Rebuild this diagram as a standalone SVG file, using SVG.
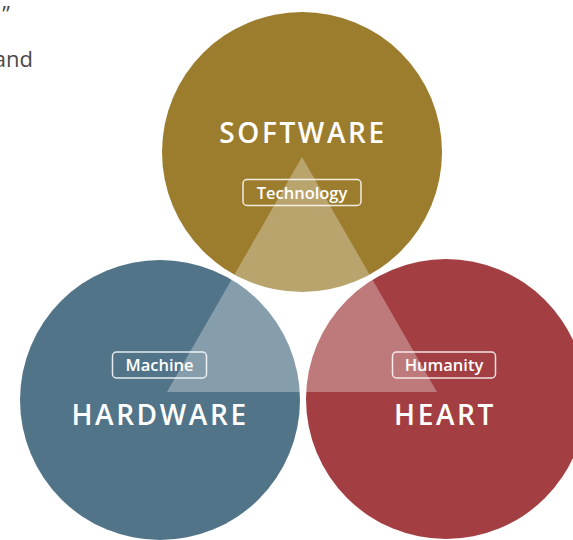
<svg xmlns="http://www.w3.org/2000/svg" width="573" height="540" viewBox="0 0 573 540">
<style>
.big{font-family:"Open Sans","Noto Sans",sans-serif;font-weight:600;font-size:28px;fill:#ffffff;letter-spacing:2.6px;text-anchor:middle}
.lbl{font-family:"Open Sans","Noto Sans",sans-serif;font-weight:600;font-size:16.5px;fill:#ffffff;text-anchor:middle}
.box{fill:none;stroke:#ffffff;stroke-width:1.5;stroke-opacity:0.85}
.side{font-family:"Open Sans","Noto Sans",sans-serif;font-weight:400;font-size:22px;fill:#4a4a4a;text-anchor:end}
</style>
<rect width="573" height="540" fill="#ffffff"/>
<text class="side" x="10" y="22">”</text>
<text class="side" x="33" y="67">and</text>
<g id="hardware">
<circle cx="160" cy="400" r="140" fill="#527489"/>
</g>
<g id="heart">
<circle cx="446" cy="399" r="140" fill="#A33F42"/>
</g>
<g id="software">
<circle cx="302" cy="152" r="140" fill="#9C7D2E"/>
</g>
<g id="overlay">
<polygon points="302,157 167,392 437,392" fill="#ffffff" fill-opacity="0.3"/>
</g>
<g id="connectors"></g>
<g id="software-labels">
<text class="big" x="303" y="143">SOFTWARE</text>
<rect class="box" x="243" y="179.5" width="118" height="26" rx="4"/>
<text class="lbl" x="302" y="199">Technology</text>
</g>
<g id="hardware-labels">
<text class="big" x="160" y="425">HARDWARE</text>
<rect class="box" x="112.5" y="352" width="94" height="26" rx="4"/>
<text class="lbl" x="159.5" y="371">Machine</text>
</g>
<g id="heart-labels">
<text class="big" x="445" y="425">HEART</text>
<rect class="box" x="392.5" y="352" width="103" height="26" rx="4"/>
<text class="lbl" x="444" y="371">Humanity</text>
</g>
</svg>
